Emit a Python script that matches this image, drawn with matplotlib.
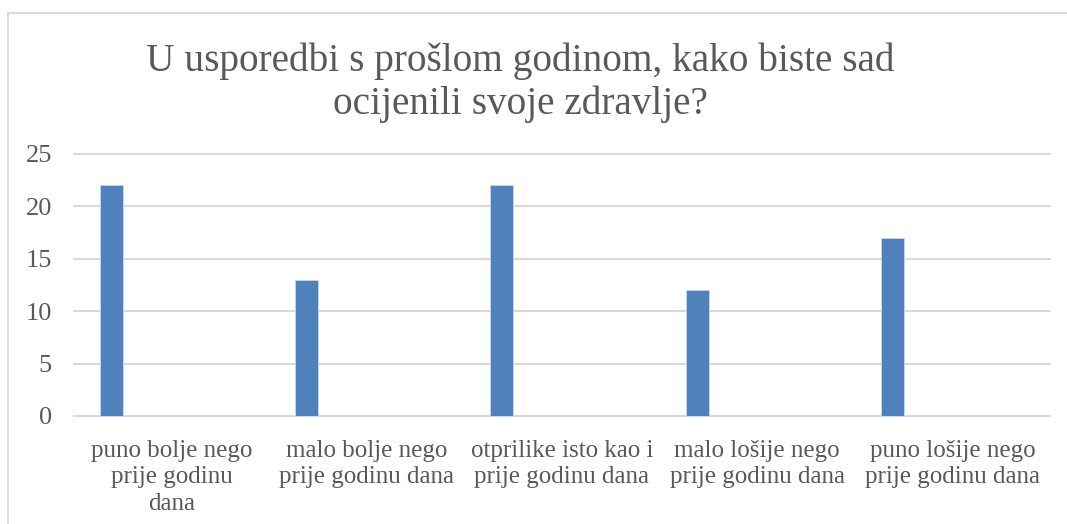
import matplotlib
matplotlib.use("Agg")
import matplotlib.pyplot as plt
from matplotlib.lines import Line2D

categories = [
    "puno bolje nego\nprije godinu\ndana",
    "malo bolje nego\nprije godinu dana",
    "otprilike isto kao i\nprije godinu dana",
    "malo lošije nego\nprije godinu dana",
    "puno lošije nego\nprije godinu dana",
]
values = [22, 13, 22, 12, 17]
yticks = [0, 5, 10, 15, 20, 25]
title_lines = ["U usporedbi s prošlom godinom, kako biste sad",
               "ocijenili svoje zdravlje?"]

W, H = 1067, 524
DPI = 100
TEXT = "#595959"
GRID = "#d9d9d9"
BAR = "#4f81bd"
FONT = "Liberation Serif"

fig = plt.figure(figsize=(W / DPI, H / DPI), dpi=DPI)
fig.patch.set_facecolor("white")

# chart frame (left and top edges)
fig.add_artist(Line2D([8 / W, 8 / W], [0, 1 - 13 / H], transform=fig.transFigure,
                      color=GRID, lw=1.3))
fig.add_artist(Line2D([8 / W, 1], [1 - 13 / H, 1 - 13 / H], transform=fig.transFigure,
                      color=GRID, lw=1.3))

left, right = 74 / W, 1050 / W
bottom, top = 1 - 416 / H, 1 - 154 / H
ax = fig.add_axes([left, bottom, right - left, top - bottom])

n = len(categories)
xs = [i - 0.308 for i in range(n)]
ax.bar(xs, values, width=0.118, color=BAR, edgecolor="#c9d8ec", linewidth=0.6, zorder=3)

ax.set_xlim(-0.5, n - 0.5)
ax.set_ylim(0, 25)
ax.set_yticks(yticks)
ax.set_yticklabels([str(t) for t in yticks], fontsize=19, color=TEXT, family=FONT)
ax.set_xticks(range(n))
ax.set_xticklabels(categories, fontsize=18, color=TEXT, family=FONT, linespacing=1.28)
ax.tick_params(axis="both", length=0)
ax.tick_params(axis="y", pad=16)
ax.tick_params(axis="x", pad=17)

for s in ax.spines.values():
    s.set_visible(False)
for t in yticks:
    ax.axhline(t, color=GRID, lw=1.5, zorder=1, clip_on=False)

# two-line chart title, each line placed on its own baseline
for line, base in zip(title_lines, [71, 114]):
    fig.text(520 / W, 1 - base / H, line, ha="center", va="baseline", fontsize=28.3,
             color=TEXT, family=FONT)

fig.savefig("out.png", dpi=DPI)
